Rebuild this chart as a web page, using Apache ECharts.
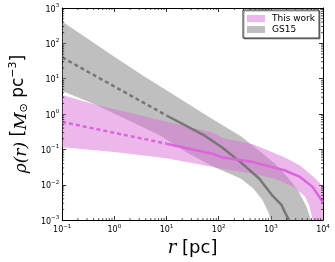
<!DOCTYPE html>
<html><head><meta charset="utf-8">
<script src="https://cdn.jsdelivr.net/npm/echarts@6/dist/echarts.min.js"></script>
<style>html,body{margin:0;padding:0;background:#fff}#c{width:335px;height:262px}</style>
</head><body><div id="c"></div>
<script>
// ---- data (r [pc], rho [Msun pc^-3]) ----
const xRange = [0.1, 10000];
const yRange = [0.001, 1000];
const seriesNames = ['This work', 'GS15'];

const gs15Upper = [[0.1,417],[1,42],[3.5,12.3],[10,4.7],[63,0.85],[115,0.5],[263,0.24],[603,0.091],[1200,0.039],[2090,0.0166],[3390,0.0065],[4790,0.00245],[5900,0.001]];
const gs15Lower = [[0.1,4.47],[0.44,1.82],[6.9,0.263],[27.5,0.074],[78,0.033],[126,0.024],[263,0.0151],[457,0.0079],[692,0.0037],[912,0.00158],[1000,0.001]];
const workUpper = [[0.1,3.47],[0.44,1.82],[78,0.295],[115,0.214],[457,0.141],[912,0.091],[1820,0.060],[3630,0.035],[7240,0.0148],[10000,0.0089]];
const workLower = [[0.1,0.115],[1,0.085],[10,0.056],[78,0.0316],[115,0.0282],[457,0.0204],[1200,0.0148],[2750,0.0087],[4470,0.0047],[5500,0.0025],[6300,0.001],[10000,0.001]];

const gs15Dashed = [[0.1,40],[10,0.91]];
const gs15Solid = [[10,0.91],[55,0.24],[115,0.115],[263,0.0437],[603,0.0148],[1050,0.0051],[1585,0.00275],[1950,0.00145],[2240,0.001]];
const workDashed = [[0.1,0.6],[10,0.145]];
const workSolid = [[10,0.145],[78,0.074],[115,0.060],[457,0.0437],[1820,0.0257],[3630,0.0166],[6310,0.0087],[10000,0.0032]];

const xMajor = [0.1,1,10,100,1000];
const yMajor = [0.001,0.01,0.1,1,10,100];
const minorMult = [2,3,4,5,6,7,8,9];

const FONT = 'DejaVu Sans';
const tickRich = {
  b: {fontSize: 8, fontFamily: FONT, color: '#000', lineHeight: 11, verticalAlign: 'bottom'},
  s: {fontSize: 5.5, fontFamily: FONT, color: '#000', lineHeight: 6, verticalAlign: 'top'}
};
function fmt(v) {
  const e = Math.round(Math.log10(v));
  return '{b|10}{s|' + (e < 0 ? '\u2212' + (-e) : e) + '}';
}

function band(name, upper, lower, fill, z) {
  return {
    type: 'custom', name: name, z: z, clip: true, silent: true,
    itemStyle: {color: fill},
    data: [[upper[0][0], upper[0][1]]],
    renderItem: function (params, api) {
      const pts = upper.map(p => api.coord(p)).concat(lower.slice().reverse().map(p => api.coord(p)));
      return {type: 'polygon', shape: {points: pts}, style: {fill: fill, stroke: null}};
    }
  };
}
function line(data, color, dashed) {
  return {
    type: 'line', data: data, showSymbol: false, silent: true, z: 5, smooth: false,
    lineStyle: {color: color, width: 2.5, type: dashed ? [4, 3] : 'solid', cap: 'butt', join: 'round'}
  };
}
const minorTicks = {
  type: 'custom', silent: true, z: 10, clip: false,
  data: [[1, 1]],
  renderItem: function (params, api) {
    const ch = [];
    const st = {stroke: '#000', lineWidth: 0.7};
    xMajor.forEach(d => minorMult.forEach(m => {
      const v = d * m;
      const b = api.coord([v, yRange[0]]), t = api.coord([v, yRange[1]]);
      ch.push({type: 'line', shape: {x1: b[0], y1: b[1], x2: b[0], y2: b[1] - 2}, style: st});
      ch.push({type: 'line', shape: {x1: t[0], y1: t[1], x2: t[0], y2: t[1] + 2}, style: st});
    }));
    yMajor.forEach(d => minorMult.forEach(m => {
      const v = d * m;
      const l = api.coord([xRange[0], v]), r = api.coord([xRange[1], v]);
      ch.push({type: 'line', shape: {x1: l[0], y1: l[1], x2: l[0] + 2, y2: l[1]}, style: st});
      ch.push({type: 'line', shape: {x1: r[0], y1: r[1], x2: r[0] - 2, y2: r[1]}, style: st});
    }));
    return {type: 'group', children: ch};
  }
};

const axisCommon = {
  type: 'log', logBase: 10,
  axisLine: {show: true, onZero: false, lineStyle: {color: '#000', width: 1}},
  axisTick: {show: true, inside: true, length: 4, lineStyle: {color: '#000', width: 0.8}},
  splitLine: {show: false}, minorTick: {show: false}
};

const chart = echarts.init(document.getElementById('c'), null, {renderer: 'canvas'});
chart.setOption({
  animation: false,
  backgroundColor: '#fff',
  grid: {left: 44, right: 12, top: 8, bottom: 38, containLabel: false},
  xAxis: [
    Object.assign({}, axisCommon, {
      position: 'bottom', min: xRange[0], max: xRange[1], splitNumber: 5,
      axisLabel: {formatter: fmt, rich: tickRich, margin: 3},
      name: '{i|r} [pc]', nameLocation: 'middle', nameGap: 14,
      nameTextStyle: {fontSize: 18, fontFamily: FONT, color: '#000',
        rich: {i: {fontSize: 18, fontFamily: 'DejaVu Serif', fontStyle: 'italic', color: '#000'}}}
    }),
    Object.assign({}, axisCommon, {
      position: 'top', min: xRange[0], max: xRange[1], splitNumber: 5, axisLabel: {show: false}
    })
  ],
  yAxis: [
    Object.assign({}, axisCommon, {
      position: 'left', min: yRange[0], max: yRange[1], splitNumber: 6,
      axisLabel: {formatter: fmt, rich: tickRich, margin: 3},
      name: '{i|\u03C1(r)} [{i|M}{sub|\u2299} pc{sup|\u22123}]', nameLocation: 'middle', nameRotate: 90, nameGap: 12,
      nameTextStyle: {fontSize: 17, fontFamily: FONT, color: '#000',
        rich: {
          i: {fontSize: 17, fontFamily: 'DejaVu Serif', fontStyle: 'italic', color: '#000', lineHeight: 22, verticalAlign: 'bottom'},
          sub: {fontSize: 11, fontFamily: FONT, color: '#000', lineHeight: 22, verticalAlign: 'bottom'},
          sup: {fontSize: 11, fontFamily: FONT, color: '#000', lineHeight: 22, verticalAlign: 'top'}
        }}
    }),
    Object.assign({}, axisCommon, {
      position: 'right', min: yRange[0], max: yRange[1], splitNumber: 6, axisLabel: {show: false}
    })
  ],
  legend: {
    data: seriesNames, orient: 'vertical', left: 243, top: 10,
    icon: 'rect', itemWidth: 18, itemHeight: 7, itemGap: 2,
    padding: [4, 4, 4, 4],
    textStyle: {fontSize: 9, fontFamily: FONT, color: '#000', padding: [0, 0, 0, 2]},
    borderColor: '#333', borderWidth: 1, borderRadius: 0,
    backgroundColor: '#fff',
    shadowColor: 'rgba(0,0,0,0.35)', shadowOffsetX: 1, shadowOffsetY: 1, shadowBlur: 0,
    selectedMode: false
  },
  series: [
    band('GS15', gs15Upper, gs15Lower, 'rgba(128,128,128,0.5)', 1),
    band('This work', workUpper, workLower, 'rgba(218,112,214,0.5)', 2),
    line(gs15Dashed, '#777777', true),
    line(gs15Solid, '#777777', false),
    line(workDashed, '#dc64dc', true),
    line(workSolid, '#dc64dc', false),
    minorTicks
  ]
});
</script></body></html>
